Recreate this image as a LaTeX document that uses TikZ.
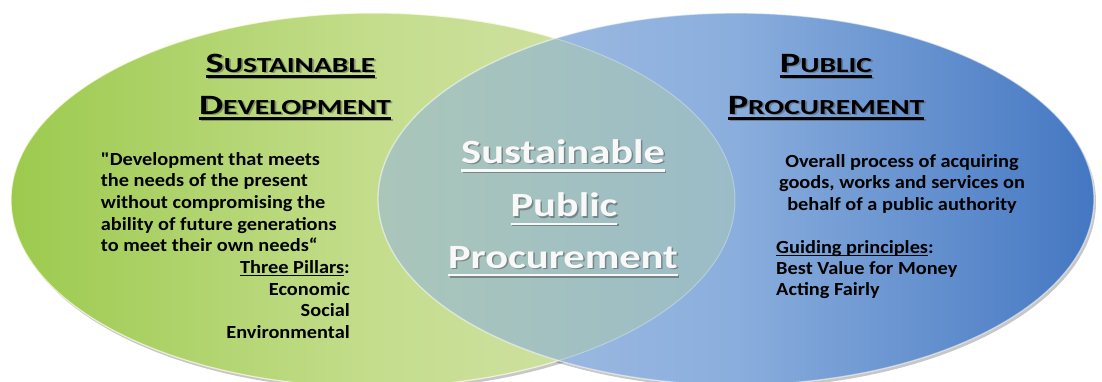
\documentclass[tikz,border=0pt]{standalone}
\usepackage{fontspec}
\setmainfont{Carlito}
\newfontfamily\bodyf{Carlito}[FakeStretch=1.1, Ligatures=TeXOff]
\newfontfamily\titf{Carlito}[FakeStretch=1.37]
\newfontfamily\midf{Carlito}[FakeStretch=1.25]
\definecolor{gL}{RGB}{156,202,78}
\definecolor{gM}{RGB}{196,221,140}
\definecolor{gR}{RGB}{214,227,178}
\definecolor{bL}{RGB}{170,194,228}
\definecolor{bM}{RGB}{138,174,221}
\definecolor{bR}{RGB}{68,119,194}
\definecolor{oL}{RGB}{170,198,186}
\definecolor{oR}{RGB}{140,177,213}
\definecolor{txtw}{RGB}{248,248,248}
\newcommand\ulx[3]{\setbox0\hbox{#3}\rlap{\rule[-#1]{\wd0}{#2}}\box0}
\newcommand\bigS{\fontsize{28}{28}\selectfont}
\newcommand\smS{\fontsize{21.5}{22}\selectfont}
\tikzset{
  ttl/.style={inner sep=0pt, anchor=base, font=\titf\bfseries\bigS, text=black},
  ttlsh/.style={ttl, text=black!70, opacity=0.45},
  mid/.style={inner sep=0pt, anchor=base, font=\midf\bfseries\fontsize{34}{34}\selectfont, text=txtw},
  midsh/.style={mid, text=black!75, opacity=0.45},
  bodyl/.style={inner sep=0pt, anchor=base west, font=\bodyf\bfseries\fontsize{18.5}{21}\selectfont},
  bodyr/.style={inner sep=0pt, anchor=base east, font=\bodyf\bfseries\fontsize{18.5}{21}\selectfont},
  bodyc/.style={inner sep=0pt, anchor=base, font=\bodyf\bfseries\fontsize{18.5}{21}\selectfont},
  gell/.style={x radius=362pt, y radius=187pt},
  bell/.style={x radius=358pt, y radius=186pt}
}
\begin{document}
\begin{tikzpicture}[x=1pt,y=-1pt]
\useasboundingbox (0,0) rectangle (1102,381);
\begin{scope}
\clip (0,0) rectangle (1102,381);
\fill[black,opacity=0.22] (375,203) ellipse [gell];
\fill[black,opacity=0.22] (738,202) ellipse [bell];
\shade[left color=gL, right color=gR, middle color=gM] (373,200) ellipse [gell];
\draw[white!85!yellow, opacity=0.6, line width=1.2pt] (373,200) ellipse [gell];
\shade[left color=bL, right color=bR, middle color=bM] (736,199) ellipse [bell];
\begin{scope}
\clip (373,200) ellipse [gell];
\shade[left color=oL, right color=oR] (736,199) ellipse [bell];
\end{scope}
\draw[white, opacity=0.3, line width=1pt] (373,200) ellipse [gell];
\draw[white, opacity=0.55, line width=1.3pt] (736,199) ellipse [bell];
\end{scope}

% left title
\node[ttlsh] (t1s) at (292.3,73.5) {\ulx{5.5pt}{2.3pt}{S\smS USTAINABLE}};
\node[ttl] (t1) at (290.5,72) {\ulx{5.5pt}{2.3pt}{S\smS USTAINABLE}};
\node[ttlsh] (t2s) at (296.8,115.5) {\ulx{5.5pt}{2.3pt}{D\smS EVELOPMENT}};
\node[ttl] (t2) at (295,114) {\ulx{5.5pt}{2.3pt}{D\smS EVELOPMENT}};
% right title
\node[ttlsh] (t3s) at (827.8,73.5) {\ulx{5.5pt}{2.3pt}{P\smS UBLIC}};
\node[ttl] (t3) at (826,72) {\ulx{5.5pt}{2.3pt}{P\smS UBLIC}};
\node[ttlsh] (t4s) at (827.8,115.5) {\ulx{5.5pt}{2.3pt}{P\smS ROCUREMENT}};
\node[ttl] (t4) at (826,114) {\ulx{5.5pt}{2.3pt}{P\smS ROCUREMENT}};

% centre
\node[midsh] (c1s) at (564.5,164.8) {\ulx{8.2pt}{2.4pt}{Sustainable}};
\node[mid] (c1) at (563,163.3) {\ulx{8.2pt}{2.4pt}{Sustainable}};
\node[midsh] (c2s) at (565.5,218.2) {\ulx{8.2pt}{2.4pt}{Public}};
\node[mid] (c2) at (564,216.7) {\ulx{8.2pt}{2.4pt}{Public}};
\node[midsh] (c3s) at (564.5,269.5) {\ulx{8.2pt}{2.4pt}{Procurement}};
\node[mid] (c3) at (563,268) {\ulx{8.2pt}{2.4pt}{Procurement}};

% left body
\node[bodyl] (l1) at (100.7,165) {"Development that meets};
\node[bodyl] (l2) at (100.7,186.7) {the needs of the present};
\node[bodyl] (l3) at (100.7,208.4) {without compromising the};
\node[bodyl] (l4) at (100.7,230) {ability of future generations};
\node[bodyl] (l5) at (100.7,251.7) {to meet their own needs“};
\node[bodyr] (l6) at (350,273.4) {\ulx{3pt}{1.4pt}{Three Pillars}:};
\node[bodyr] (l7) at (350,295) {Economic};
\node[bodyr] (l8) at (350,316.8) {Social};
\node[bodyr] (l9) at (350,338.5) {Environmental};

% right body
\node[bodyc] (r1) at (902,167) {Overall process of acquiring};
\node[bodyc] (r2) at (902,188.5) {goods, works and services on};
\node[bodyc] (r3) at (902,210) {behalf of a public authority};
\node[bodyl] (r4) at (776,253) {\ulx{3pt}{1.4pt}{Guiding principles}:};
\node[bodyl] (r5) at (776,274) {Best Value for Money};
\node[bodyl] (r6) at (776,295.5) {Acting Fairly};
\end{tikzpicture}
\end{document}
